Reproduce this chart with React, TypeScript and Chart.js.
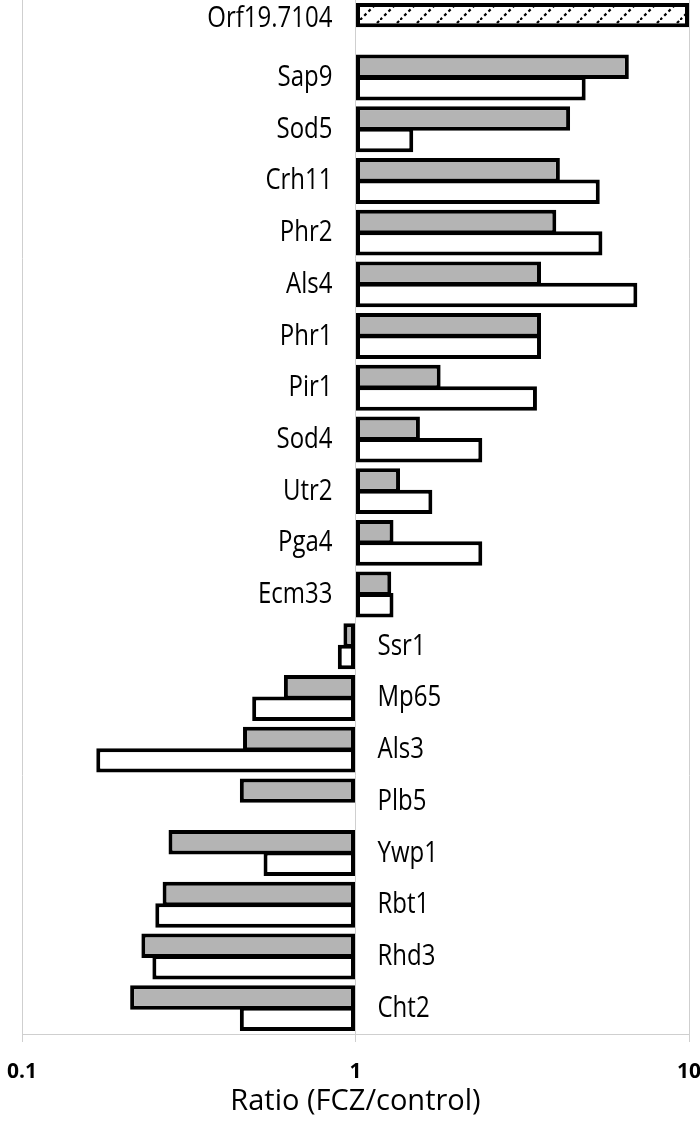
import React, { useEffect, useRef } from "react";
import { Chart, registerables } from "chart.js";

Chart.register(...registerables);

const genes = [
  "Orf19.7104", "Sap9", "Sod5", "Crh11", "Phr2", "Als4", "Phr1", "Pir1", "Sod4", "Utr2",
  "Pga4", "Ecm33", "Ssr1", "Mp65", "Als3", "Plb5", "Ywp1", "Rbt1", "Rhd3", "Cht2",
];
const greyRatios = [
  10, 6.6, 4.4, 4.1, 4.0, 3.6, 3.6, 1.8, 1.56, 1.36,
  1.3, 1.28, 0.92, 0.61, 0.46, 0.45, 0.275, 0.264, 0.228, 0.211,
];
const whiteRatios = [
  null, 4.9, 1.49, 5.4, 5.5, 7.0, 3.6, 3.5, 2.4, 1.7,
  2.4, 1.3, 0.885, 0.49, 0.167, null, 0.53, 0.251, 0.246, 0.45,
];
const xTicks = [0.1, 1, 10];
const axisTitle = "Ratio (FCZ/control)";

function makeHatch(): CanvasPattern | string {
  const c = document.createElement("canvas");
  c.width = 20;
  c.height = 20;
  const g = c.getContext("2d");
  if (!g) return "#fff";
  g.fillStyle = "#fff";
  g.fillRect(0, 0, 20, 20);
  g.strokeStyle = "#000";
  g.lineWidth = 2.2;
  g.setLineDash([3, 3]);
  g.beginPath();
  g.moveTo(0, 20);
  g.lineTo(20, 0);
  g.stroke();
  const p = g.createPattern(c, "repeat");
  return p || "#fff";
}

const labelPlugin = {
  id: "geneLabels",
  afterDatasetsDraw(chart: any) {
    const { ctx, scales } = chart;
    const x = scales.x;
    const y = scales.y;
    const x1 = x.getPixelForValue(1);
    const meta0 = chart.getDatasetMeta(0);
    ctx.save();
    ctx.fillStyle = "#000";
    ctx.font = '30px "Open Sans"';
    ctx.textBaseline = "middle";
    genes.forEach((g, i) => {
      const up = greyRatios[i] >= 1;
      const yy = i === 0 ? meta0.data[i].y + 3 : y.getPixelForValue(i);
      ctx.save();
      ctx.translate(up ? x1 - 23 : x1 + 22, yy);
      ctx.scale(0.8, 1);
      ctx.textAlign = up ? "right" : "left";
      ctx.fillText(g, 0, 0);
      ctx.restore();
    });
    ctx.restore();
  },
};

export default function App() {
  const ref = useRef<HTMLCanvasElement | null>(null);

  useEffect(() => {
    document.body.style.margin = "0";
    const canvas = ref.current;
    if (!canvas) return;
    const hatch = makeHatch();
    const common = {
      borderColor: "#000",
      borderWidth: 4,
      borderSkipped: false,
      base: 1,
      categoryPercentage: 0.83,
      barPercentage: 1.14,
    };
    const chart = new Chart(canvas, {
      type: "bar",
      data: {
        labels: genes,
        datasets: [
          {
            ...common,
            label: "grey",
            data: greyRatios as any,
            backgroundColor: genes.map((_, i) => (i === 0 ? hatch : "#b4b4b4")) as any,
          },
          {
            ...common,
            label: "white",
            data: whiteRatios as any,
            backgroundColor: "#ffffff",
          },
        ],
      },
      options: {
        indexAxis: "y",
        animation: false,
        responsive: true,
        maintainAspectRatio: false,
        layout: { padding: { left: 22, right: 11, top: 0, bottom: 0 } },
        plugins: { legend: { display: false }, tooltip: { enabled: false } },
        scales: {
          x: {
            type: "logarithmic",
            position: "bottom",
            min: 0.1,
            max: 10,
            afterBuildTicks: (scale: any) => {
              scale.ticks = xTicks.map((v) => ({ value: v }));
            },
            afterFit: (scale: any) => {
              scale.paddingLeft = 0;
              scale.paddingRight = 0;
              scale.height = 94;
            },
            grid: { color: "#cfcfcf", lineWidth: 1, tickLength: 8 },
            border: { display: true, color: "#cfcfcf" },
            ticks: {
              autoSkip: false,
              maxRotation: 0,
              padding: 17,
              color: "#000",
              font: { family: "Open Sans", size: 21, weight: "bold" },
              callback: (v: any) => String(v),
            },
            title: {
              display: true,
              text: axisTitle,
              color: "#000",
              font: { family: "Open Sans", size: 29 },
              padding: { top: 0, bottom: 9 },
            },
          },
          y: {
            type: "category",
            display: false,
            offset: true,
          },
        },
      } as any,
      plugins: [labelPlugin],
    });
    return () => chart.destroy();
  }, []);

  return (
    <div style={{ width: 700, height: 1128, position: "relative" }}>
      <canvas ref={ref} />
    </div>
  );
}
